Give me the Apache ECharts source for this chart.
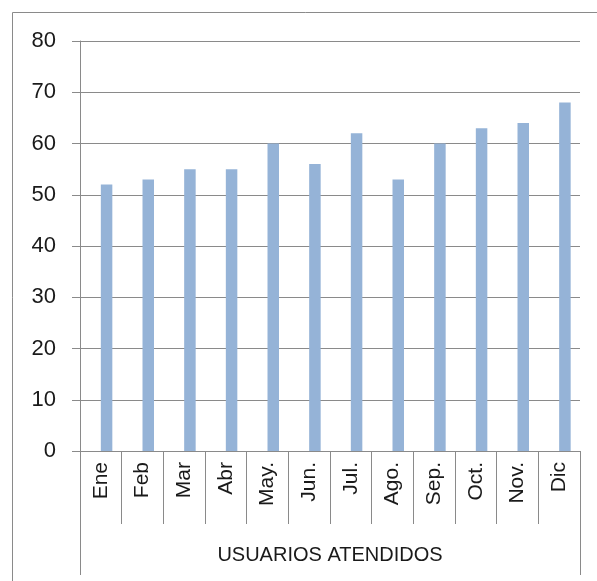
<!DOCTYPE html>
<html>
<head>
<meta charset="utf-8">
<script src="https://cdn.jsdelivr.net/npm/echarts@6/dist/echarts.min.js"></script>
<style>
  html, body { margin: 0; padding: 0; background: #fff; }
  #chart { width: 597px; height: 581px; }
</style>
</head>
<body>
<div id="chart"></div>
<script>
// datos
const meses = ['Ene', 'Feb', 'Mar', 'Abr', 'May.', 'Jun.', 'Jul.', 'Ago.', 'Sep.', 'Oct.', 'Nov.', 'Dic']
const usuarios = [52, 53, 55, 55, 60, 56, 62, 53, 60, 63, 64, 68]
const grupo = ['USUARIOS ATENDIDOS']
const yTicks = [0, 10, 20, 30, 40, 50, 60, 70, 80]

const gris = '#8a8a8a'
const fuente = 'Liberation Sans'

let chart = echarts.init(document.getElementById('chart'))

chart.setOption({
    animation: false,
    graphic: [
        {
            // marco exterior del gráfico
            type: 'rect',
            shape: { x: 12.5, y: 12.5, width: 700, height: 700 },
            style: { fill: 'none', stroke: gris, lineWidth: 1 },
            silent: true
        }
    ],
    grid: { left: 80, right: 17, top: 41, bottom: 130 },
    xAxis: [
        {
            type: 'category',
            data: meses,
            axisLine: { show: true, lineStyle: { color: gris } },
            axisTick: { show: true, length: 73, interval: 0, lineStyle: { color: gris } },
            axisLabel: {
                rotate: 90, interval: 0, margin: 11,
                fontFamily: fuente, fontSize: 21, color: '#1a1a1a'
            }
        },
        {
            type: 'category',
            data: grupo,
            position: 'bottom',
            axisLine: { show: false },
            axisTick: { show: true, length: 124, lineStyle: { color: gris } },
            axisLabel: { margin: 94, fontFamily: fuente, fontSize: 20, color: '#1a1a1a' }
        }
    ],
    yAxis: {
        type: 'value',
        min: yTicks[0],
        max: yTicks[yTicks.length - 1],
        interval: 10,
        axisLine: { show: true, lineStyle: { color: gris } },
        axisTick: { show: true, length: 8, lineStyle: { color: gris } },
        splitLine: { lineStyle: { color: gris } },
        axisLabel: { margin: 24, fontFamily: fuente, fontSize: 22, color: '#1a1a1a' }
    },
    series: [
        {
            // serie vacía (desplaza la barra como en el original)
            type: 'bar',
            data: meses.map(() => '-'),
            barWidth: 11.5,
            barGap: 0
        },
        {
            type: 'bar',
            data: usuarios,
            barWidth: 11.5,
            barGap: 0,
            itemStyle: { color: '#95b3d7' }
        }
    ]
})
</script>
</body>
</html>
